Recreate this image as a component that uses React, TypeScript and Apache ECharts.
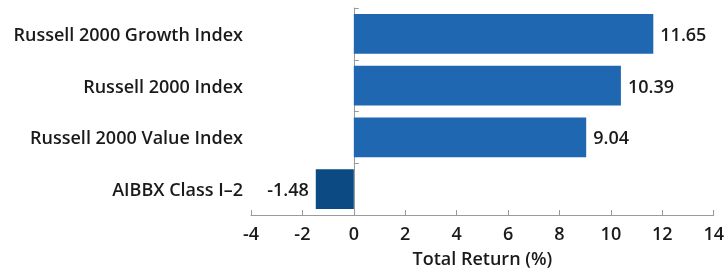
import React, { useEffect, useRef } from "react";
import * as echarts from "echarts";

const categories = [
  "Russell 2000 Growth Index",
  "Russell 2000 Index",
  "Russell 2000 Value Index",
  "AIBBX Class I\u20132",
];
const values = [11.65, 10.39, 9.04, -1.48];
const barColors = ["#1f67b1", "#1f67b1", "#1f67b1", "#0b4a82"];
const xTicks = { min: -4, max: 14, interval: 2 };

export default function App() {
  const ref = useRef<HTMLDivElement>(null);
  useEffect(() => {
    if (!ref.current) return;
    const chart = echarts.init(ref.current, undefined, { renderer: "svg" });
    const font = "'Open Sans', 'Noto Sans', sans-serif";
    const fs = 18;
    const fw = 600;
    const axisGrey = "#9a9a9a";
    chart.setOption({
      animation: false,
      textStyle: { fontFamily: font },
      grid: { left: 251, right: 11, top: 8, bottom: 56, containLabel: false },
      xAxis: {
        type: "value",
        min: xTicks.min,
        max: xTicks.max,
        interval: xTicks.interval,
        name: "Total Return (%)",
        nameLocation: "middle",
        nameGap: 34,
        nameTextStyle: { fontSize: fs, fontWeight: fw, color: "#1a1a1a", fontFamily: font },
        axisLine: { show: true, lineStyle: { color: axisGrey, width: 1 } },
        axisTick: { show: true, inside: true, length: 5, lineStyle: { color: axisGrey } },
        axisLabel: { fontSize: fs, fontWeight: fw, color: "#1a1a1a", margin: 9, fontFamily: font },
        splitLine: { show: false },
      },
      yAxis: [
        {
          type: "category",
          data: categories,
          inverse: true,
          axisLine: { show: false, onZero: false },
          axisTick: { show: false },
          axisLabel: { fontSize: fs, fontWeight: fw, color: "#1a1a1a", margin: 8, fontFamily: font },
        },
        {
          type: "category",
          data: categories,
          inverse: true,
          position: "left",
          axisLine: { show: true, onZero: true, lineStyle: { color: axisGrey, width: 1 } },
          axisTick: { show: true, inside: true, length: 5, lineStyle: { color: axisGrey } },
          axisLabel: { show: false },
          splitLine: { show: false },
        },
      ],
      series: [
        {
          type: "bar",
          yAxisIndex: 0,
          barWidth: "77%",
          data: values.map((v, i) => ({
            value: v,
            itemStyle: { color: barColors[i] },
            label: {
              show: true,
              position: v >= 0 ? "right" : "left",
              distance: 7,
              formatter: (p: any) => Number(p.value).toFixed(2),
              fontSize: fs,
              fontWeight: fw,
              color: "#1a1a1a",
              fontFamily: font,
            },
          })),
        },
      ],
    });
    return () => chart.dispose();
  }, []);
  return (
    <div
      ref={ref}
      style={{ position: "fixed", left: 0, top: 0, width: 727, height: 272 }}
    />
  );
}
